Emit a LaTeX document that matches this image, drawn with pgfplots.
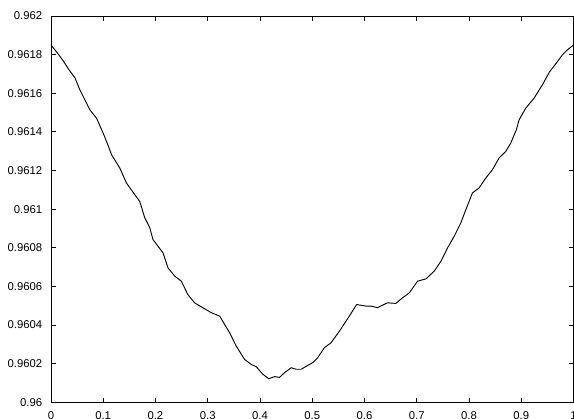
\documentclass[border=0pt]{standalone}
\usepackage{pgfplots}
\pgfplotsset{compat=1.18}
\usepackage{fontspec}
\setmainfont{Liberation Sans}
\begin{document}
\begin{tikzpicture}
\begin{axis}[
  scale only axis,
  width=392.6pt, height=290.25pt,
  xmin=0, xmax=1, ymin=0.96, ymax=0.962,
  xtick={0,0.1,0.2,0.3,0.4,0.5,0.6,0.7,0.8,0.9,1},
  xticklabels={0,0.1,0.2,0.3,0.4,0.5,0.6,0.7,0.8,0.9,1},
  ytick={0.96,0.9602,0.9604,0.9606,0.9608,0.961,0.9612,0.9614,0.9616,0.9618,0.962},
  yticklabels={0.96,0.9602,0.9604,0.9606,0.9608,0.961,0.9612,0.9614,0.9616,0.9618,0.962},
  scaled ticks=false,
  tick align=inside,
  xtick pos=both, ytick pos=both,
  major tick length=3.5pt,
  tick style={black, line width=0.6pt},
  axis line style={black, line width=0.6pt},
  ticklabel style={font=\fontsize{8.5}{10}\selectfont},
  xticklabel style={yshift=-3.5pt},
  yticklabel style={xshift=-3pt},
]
\addplot[black, line width=0.7pt] table {
x y
0.000 0.96185
0.012 0.96181
0.023 0.96177
0.035 0.96172
0.046 0.96168
0.055 0.96162
0.065 0.961566
0.0745 0.961514
0.0873 0.961471
0.0999 0.961394
0.108 0.96134
0.116 0.961282
0.1318 0.961213
0.1446 0.961135
0.1605 0.961075
0.170 0.96104
0.1796 0.960955
0.189 0.960905
0.1954 0.960842
0.2145 0.960774
0.224 0.960696
0.237 0.960653
0.2496 0.960627
0.262 0.960558
0.275 0.960515
0.291 0.960489
0.307 0.960464
0.323 0.960446
0.342 0.96036
0.3547 0.960291
0.3706 0.960222
0.3834 0.960196
0.393 0.960184
0.4056 0.960145
0.417 0.960122
0.428 0.960133
0.4374 0.960129
0.447 0.960153
0.4598 0.960179
0.4693 0.960171
0.479 0.960171
0.4915 0.960191
0.501 0.960205
0.5106 0.960231
0.5234 0.960283
0.536 0.960308
0.552 0.960368
0.571 0.960446
0.585 0.960506
0.603 0.960498
0.6126 0.960498
0.625 0.96049
0.644 0.960515
0.660 0.960512
0.673 0.960541
0.686 0.960567
0.7016 0.960627
0.7177 0.960639
0.7335 0.960679
0.7463 0.96073
0.759 0.960799
0.7717 0.960859
0.7845 0.960929
0.794 0.960997
0.8067 0.961084
0.8195 0.96111
0.8322 0.961161
0.8449 0.961204
0.8577 0.961265
0.8705 0.961299
0.88 0.961342
0.8907 0.961411
0.8959 0.961462
0.9087 0.961523
0.9245 0.961574
0.9404 0.961643
0.9545 0.961712
0.9672 0.961756
0.9786 0.961798
0.9882 0.961824
1.0 0.96185
};
\end{axis}
\pgfresetboundingbox
\useasboundingbox (-38.25pt,-12pt) rectangle (393pt,302.25pt);
\end{tikzpicture}
\end{document}
